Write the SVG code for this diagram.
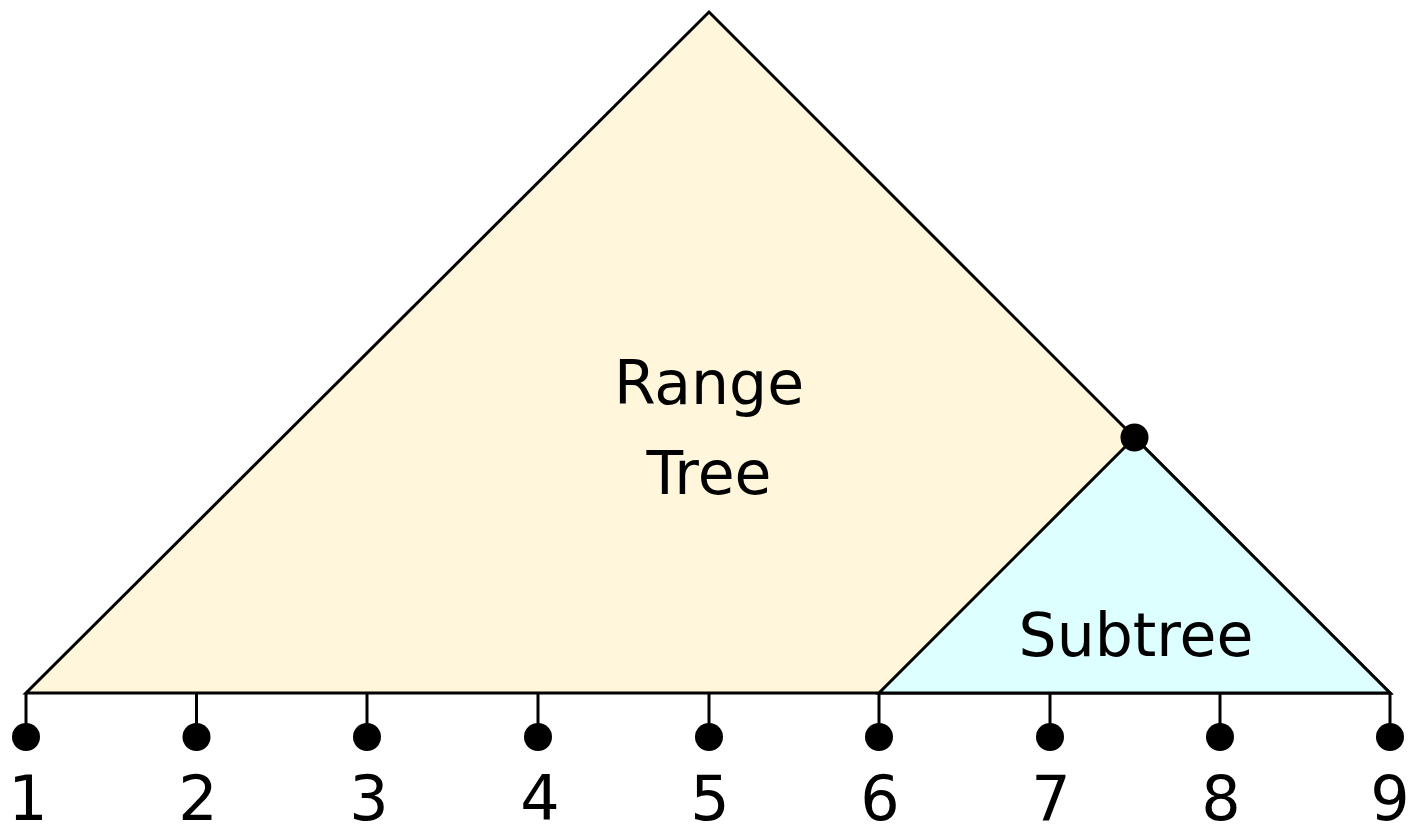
<svg xmlns="http://www.w3.org/2000/svg" width="1413" height="833" viewBox="0 0 1413 833">
<style>
.tri{stroke:#000;stroke-width:3;stroke-linejoin:miter}
.tick{stroke:#000;stroke-width:3}
.dot{fill:#000}
.t{font-family:"DejaVu Sans","Liberation Sans",sans-serif;font-size:60px;fill:#000;text-anchor:middle}
.n{font-family:"DejaVu Sans","Liberation Sans",sans-serif;font-size:62px;fill:#000;text-anchor:middle}
</style>
<rect width="1413" height="833" fill="#fff"/>
<g id="range-tree">
<polygon class="tri" points="709,12 1390,693 26,693" fill="#FFF6DC"/>
<text class="t" x="709" y="404">Range</text>
<text class="t" x="709" y="494">Tree</text>
</g>
<g id="subtree">
<polygon class="tri" points="1134.5,437.5 1390,693 879,693" fill="#DDFFFF"/>
<text class="t" x="1136" y="656">Subtree</text>
</g>
<g id="subtree-root">
<circle class="dot" cx="1134.5" cy="437.5" r="14"/>
</g>
<g id="connectors">
<line class="tick" x1="26" y1="693" x2="26" y2="737"/>
<line class="tick" x1="196.5" y1="693" x2="196.5" y2="737"/>
<line class="tick" x1="367" y1="693" x2="367" y2="737"/>
<line class="tick" x1="538" y1="693" x2="538" y2="737"/>
<line class="tick" x1="709" y1="693" x2="709" y2="737"/>
<line class="tick" x1="879" y1="693" x2="879" y2="737"/>
<line class="tick" x1="1050" y1="693" x2="1050" y2="737"/>
<line class="tick" x1="1220" y1="693" x2="1220" y2="737"/>
<line class="tick" x1="1390" y1="693" x2="1390" y2="737"/>
</g>
<g id="leaf-1"><circle class="dot" cx="26" cy="737" r="14"/><text class="n" x="28" y="820">1</text></g>
<g id="leaf-2"><circle class="dot" cx="196.5" cy="737" r="14"/><text class="n" x="198" y="820">2</text></g>
<g id="leaf-3"><circle class="dot" cx="367" cy="737" r="14"/><text class="n" x="369" y="820">3</text></g>
<g id="leaf-4"><circle class="dot" cx="538" cy="737" r="14"/><text class="n" x="540" y="820">4</text></g>
<g id="leaf-5"><circle class="dot" cx="709" cy="737" r="14"/><text class="n" x="710" y="820">5</text></g>
<g id="leaf-6"><circle class="dot" cx="879" cy="737" r="14"/><text class="n" x="880" y="820">6</text></g>
<g id="leaf-7"><circle class="dot" cx="1050" cy="737" r="14"/><text class="n" x="1051" y="820">7</text></g>
<g id="leaf-8"><circle class="dot" cx="1220" cy="737" r="14"/><text class="n" x="1221" y="820">8</text></g>
<g id="leaf-9"><circle class="dot" cx="1390" cy="737" r="14"/><text class="n" x="1390" y="820">9</text></g>
</svg>
